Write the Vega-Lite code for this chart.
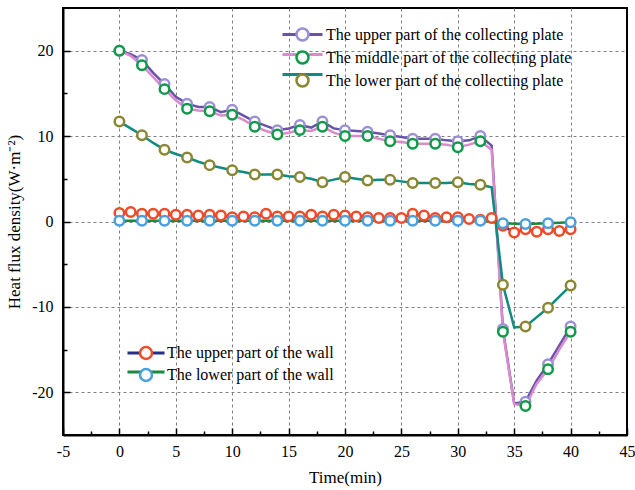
{
  "$schema": "https://vega.github.io/schema/vega-lite/v6.json",
  "width": 564,
  "height": 427,
  "autosize": {"type": "none"},
  "padding": {"left": 63, "top": 8, "right": 8, "bottom": 55},
  "background": "white",
  "config": {"view": {"stroke": "black", "strokeWidth": 2}, "font": "Liberation Serif"},
  "datasets": {
    "plates": [
      {"t":0,"v":20.0,"s":"The upper part of the collecting plate"},{"t":1,"v":19.6,"s":"The upper part of the collecting plate"},{"t":2,"v":18.9,"s":"The upper part of the collecting plate"},{"t":3,"v":17.4,"s":"The upper part of the collecting plate"},{"t":4,"v":16.1,"s":"The upper part of the collecting plate"},{"t":5,"v":14.6,"s":"The upper part of the collecting plate"},{"t":6,"v":13.8,"s":"The upper part of the collecting plate"},{"t":7,"v":13.4,"s":"The upper part of the collecting plate"},{"t":8,"v":13.4,"s":"The upper part of the collecting plate"},{"t":9,"v":12.8,"s":"The upper part of the collecting plate"},{"t":10,"v":13.1,"s":"The upper part of the collecting plate"},{"t":11,"v":12.4,"s":"The upper part of the collecting plate"},{"t":12,"v":11.7,"s":"The upper part of the collecting plate"},{"t":13,"v":11.2,"s":"The upper part of the collecting plate"},{"t":14,"v":10.7,"s":"The upper part of the collecting plate"},{"t":15,"v":10.9,"s":"The upper part of the collecting plate"},{"t":16,"v":11.3,"s":"The upper part of the collecting plate"},{"t":17,"v":11.0,"s":"The upper part of the collecting plate"},{"t":18,"v":11.7,"s":"The upper part of the collecting plate"},{"t":19,"v":10.9,"s":"The upper part of the collecting plate"},{"t":20,"v":10.7,"s":"The upper part of the collecting plate"},{"t":21,"v":10.6,"s":"The upper part of the collecting plate"},{"t":22,"v":10.5,"s":"The upper part of the collecting plate"},{"t":23,"v":10.3,"s":"The upper part of the collecting plate"},{"t":24,"v":10.1,"s":"The upper part of the collecting plate"},{"t":25,"v":9.9,"s":"The upper part of the collecting plate"},{"t":26,"v":9.7,"s":"The upper part of the collecting plate"},{"t":27,"v":9.7,"s":"The upper part of the collecting plate"},{"t":28,"v":9.7,"s":"The upper part of the collecting plate"},{"t":29,"v":9.5,"s":"The upper part of the collecting plate"},{"t":30,"v":9.4,"s":"The upper part of the collecting plate"},{"t":31,"v":9.5,"s":"The upper part of the collecting plate"},{"t":32,"v":10.0,"s":"The upper part of the collecting plate"},{"t":33,"v":8.9,"s":"The upper part of the collecting plate"},{"t":34,"v":-12.6,"s":"The upper part of the collecting plate"},{"t":35,"v":-21.3,"s":"The upper part of the collecting plate"},{"t":36,"v":-21.1,"s":"The upper part of the collecting plate"},{"t":37,"v":-18.6,"s":"The upper part of the collecting plate"},{"t":38,"v":-16.7,"s":"The upper part of the collecting plate"},{"t":39,"v":-14.5,"s":"The upper part of the collecting plate"},{"t":40,"v":-12.3,"s":"The upper part of the collecting plate"},
      {"t":0,"v":20.0,"s":"The middle part of the collecting plate"},{"t":1,"v":19.4,"s":"The middle part of the collecting plate"},{"t":2,"v":18.3,"s":"The middle part of the collecting plate"},{"t":3,"v":16.9,"s":"The middle part of the collecting plate"},{"t":4,"v":15.5,"s":"The middle part of the collecting plate"},{"t":5,"v":14.2,"s":"The middle part of the collecting plate"},{"t":6,"v":13.2,"s":"The middle part of the collecting plate"},{"t":7,"v":13.0,"s":"The middle part of the collecting plate"},{"t":8,"v":12.9,"s":"The middle part of the collecting plate"},{"t":9,"v":12.4,"s":"The middle part of the collecting plate"},{"t":10,"v":12.5,"s":"The middle part of the collecting plate"},{"t":11,"v":11.9,"s":"The middle part of the collecting plate"},{"t":12,"v":11.1,"s":"The middle part of the collecting plate"},{"t":13,"v":10.6,"s":"The middle part of the collecting plate"},{"t":14,"v":10.2,"s":"The middle part of the collecting plate"},{"t":15,"v":10.4,"s":"The middle part of the collecting plate"},{"t":16,"v":10.7,"s":"The middle part of the collecting plate"},{"t":17,"v":10.6,"s":"The middle part of the collecting plate"},{"t":18,"v":11.1,"s":"The middle part of the collecting plate"},{"t":19,"v":10.4,"s":"The middle part of the collecting plate"},{"t":20,"v":10.0,"s":"The middle part of the collecting plate"},{"t":21,"v":10.0,"s":"The middle part of the collecting plate"},{"t":22,"v":10.0,"s":"The middle part of the collecting plate"},{"t":23,"v":9.7,"s":"The middle part of the collecting plate"},{"t":24,"v":9.4,"s":"The middle part of the collecting plate"},{"t":25,"v":9.3,"s":"The middle part of the collecting plate"},{"t":26,"v":9.1,"s":"The middle part of the collecting plate"},{"t":27,"v":9.1,"s":"The middle part of the collecting plate"},{"t":28,"v":9.1,"s":"The middle part of the collecting plate"},{"t":29,"v":9.0,"s":"The middle part of the collecting plate"},{"t":30,"v":8.7,"s":"The middle part of the collecting plate"},{"t":31,"v":9.0,"s":"The middle part of the collecting plate"},{"t":32,"v":9.4,"s":"The middle part of the collecting plate"},{"t":33,"v":8.4,"s":"The middle part of the collecting plate"},{"t":34,"v":-12.9,"s":"The middle part of the collecting plate"},{"t":35,"v":-21.4,"s":"The middle part of the collecting plate"},{"t":36,"v":-21.6,"s":"The middle part of the collecting plate"},{"t":37,"v":-19.0,"s":"The middle part of the collecting plate"},{"t":38,"v":-17.3,"s":"The middle part of the collecting plate"},{"t":39,"v":-15.0,"s":"The middle part of the collecting plate"},{"t":40,"v":-12.9,"s":"The middle part of the collecting plate"},
      {"t":0,"v":11.7,"s":"The lower part of the collecting plate"},{"t":1,"v":10.9,"s":"The lower part of the collecting plate"},{"t":2,"v":10.1,"s":"The lower part of the collecting plate"},{"t":3,"v":9.2,"s":"The lower part of the collecting plate"},{"t":4,"v":8.4,"s":"The lower part of the collecting plate"},{"t":5,"v":7.9,"s":"The lower part of the collecting plate"},{"t":6,"v":7.5,"s":"The lower part of the collecting plate"},{"t":7,"v":7.0,"s":"The lower part of the collecting plate"},{"t":8,"v":6.6,"s":"The lower part of the collecting plate"},{"t":9,"v":6.3,"s":"The lower part of the collecting plate"},{"t":10,"v":6.0,"s":"The lower part of the collecting plate"},{"t":11,"v":5.8,"s":"The lower part of the collecting plate"},{"t":12,"v":5.5,"s":"The lower part of the collecting plate"},{"t":13,"v":5.5,"s":"The lower part of the collecting plate"},{"t":14,"v":5.5,"s":"The lower part of the collecting plate"},{"t":15,"v":5.3,"s":"The lower part of the collecting plate"},{"t":16,"v":5.2,"s":"The lower part of the collecting plate"},{"t":17,"v":5.0,"s":"The lower part of the collecting plate"},{"t":18,"v":4.6,"s":"The lower part of the collecting plate"},{"t":19,"v":4.9,"s":"The lower part of the collecting plate"},{"t":20,"v":5.2,"s":"The lower part of the collecting plate"},{"t":21,"v":5.0,"s":"The lower part of the collecting plate"},{"t":22,"v":4.8,"s":"The lower part of the collecting plate"},{"t":23,"v":4.9,"s":"The lower part of the collecting plate"},{"t":24,"v":4.9,"s":"The lower part of the collecting plate"},{"t":25,"v":4.7,"s":"The lower part of the collecting plate"},{"t":26,"v":4.5,"s":"The lower part of the collecting plate"},{"t":27,"v":4.5,"s":"The lower part of the collecting plate"},{"t":28,"v":4.5,"s":"The lower part of the collecting plate"},{"t":29,"v":4.5,"s":"The lower part of the collecting plate"},{"t":30,"v":4.6,"s":"The lower part of the collecting plate"},{"t":31,"v":4.4,"s":"The lower part of the collecting plate"},{"t":32,"v":4.3,"s":"The lower part of the collecting plate"},{"t":33,"v":4.0,"s":"The lower part of the collecting plate"},{"t":34,"v":-7.4,"s":"The lower part of the collecting plate"},{"t":35,"v":-12.4,"s":"The lower part of the collecting plate"},{"t":36,"v":-12.3,"s":"The lower part of the collecting plate"},{"t":37,"v":-11.2,"s":"The lower part of the collecting plate"},{"t":38,"v":-10.1,"s":"The lower part of the collecting plate"},{"t":39,"v":-8.8,"s":"The lower part of the collecting plate"},{"t":40,"v":-7.5,"s":"The lower part of the collecting plate"}
    ],
    "walls": [
      {"t":0,"v":1.0,"s":"The upper part of the wall"},{"t":1,"v":1.1,"s":"The upper part of the wall"},{"t":2,"v":0.9,"s":"The upper part of the wall"},{"t":3,"v":0.9,"s":"The upper part of the wall"},{"t":4,"v":0.9,"s":"The upper part of the wall"},{"t":5,"v":0.8,"s":"The upper part of the wall"},{"t":6,"v":0.8,"s":"The upper part of the wall"},{"t":7,"v":0.7,"s":"The upper part of the wall"},{"t":8,"v":0.8,"s":"The upper part of the wall"},{"t":9,"v":0.7,"s":"The upper part of the wall"},{"t":10,"v":0.5,"s":"The upper part of the wall"},{"t":11,"v":0.6,"s":"The upper part of the wall"},{"t":12,"v":0.5,"s":"The upper part of the wall"},{"t":13,"v":0.9,"s":"The upper part of the wall"},{"t":14,"v":0.6,"s":"The upper part of the wall"},{"t":15,"v":0.6,"s":"The upper part of the wall"},{"t":16,"v":0.6,"s":"The upper part of the wall"},{"t":17,"v":0.8,"s":"The upper part of the wall"},{"t":18,"v":0.6,"s":"The upper part of the wall"},{"t":19,"v":0.8,"s":"The upper part of the wall"},{"t":20,"v":0.7,"s":"The upper part of the wall"},{"t":21,"v":0.6,"s":"The upper part of the wall"},{"t":22,"v":0.5,"s":"The upper part of the wall"},{"t":23,"v":0.4,"s":"The upper part of the wall"},{"t":24,"v":0.4,"s":"The upper part of the wall"},{"t":25,"v":0.4,"s":"The upper part of the wall"},{"t":26,"v":0.9,"s":"The upper part of the wall"},{"t":27,"v":0.7,"s":"The upper part of the wall"},{"t":28,"v":0.4,"s":"The upper part of the wall"},{"t":29,"v":0.5,"s":"The upper part of the wall"},{"t":30,"v":0.5,"s":"The upper part of the wall"},{"t":31,"v":0.3,"s":"The upper part of the wall"},{"t":32,"v":0.2,"s":"The upper part of the wall"},{"t":33,"v":0.4,"s":"The upper part of the wall"},{"t":34,"v":-0.5,"s":"The upper part of the wall"},{"t":35,"v":-1.3,"s":"The upper part of the wall"},{"t":36,"v":-0.9,"s":"The upper part of the wall"},{"t":37,"v":-1.2,"s":"The upper part of the wall"},{"t":38,"v":-0.9,"s":"The upper part of the wall"},{"t":39,"v":-1.1,"s":"The upper part of the wall"},{"t":40,"v":-0.9,"s":"The upper part of the wall"},
      {"t":0,"v":0.1,"s":"The lower part of the wall"},{"t":2,"v":0.1,"s":"The lower part of the wall"},{"t":4,"v":0.1,"s":"The lower part of the wall"},{"t":6,"v":0.1,"s":"The lower part of the wall"},{"t":8,"v":0.1,"s":"The lower part of the wall"},{"t":10,"v":0.1,"s":"The lower part of the wall"},{"t":12,"v":0.1,"s":"The lower part of the wall"},{"t":14,"v":0.1,"s":"The lower part of the wall"},{"t":16,"v":0.1,"s":"The lower part of the wall"},{"t":18,"v":0.1,"s":"The lower part of the wall"},{"t":20,"v":0.1,"s":"The lower part of the wall"},{"t":22,"v":0.1,"s":"The lower part of the wall"},{"t":24,"v":0.1,"s":"The lower part of the wall"},{"t":26,"v":0.1,"s":"The lower part of the wall"},{"t":28,"v":0.1,"s":"The lower part of the wall"},{"t":30,"v":0.1,"s":"The lower part of the wall"},{"t":32,"v":0.1,"s":"The lower part of the wall"},{"t":34,"v":-0.2,"s":"The lower part of the wall"},{"t":36,"v":-0.3,"s":"The lower part of the wall"},{"t":38,"v":-0.2,"s":"The lower part of the wall"},{"t":40,"v":-0.1,"s":"The lower part of the wall"}
    ]
  },
  "encoding": {
    "x": {
      "field": "t", "type": "quantitative",
      "scale": {"domain": [-5, 45], "nice": false, "zero": false},
      "axis": {
        "title": "Time(min)",
        "values": [-5,-2.5,0,2.5,5,7.5,10,12.5,15,17.5,20,22.5,25,27.5,30,32.5,35,37.5,40,42.5,45],
        "labelExpr": "datum.value % 5 === 0 ? '' + datum.value : ''",
        "tickSize": {"condition": {"test": "datum.value % 5 !== 0", "value": -4}, "value": -7},
        "tickColor": "black", "tickWidth": 1.5,
        "domainColor": "black", "domainWidth": 2,
        "grid": true, "gridDash": [3, 3], "gridColor": "#808080", "gridWidth": 1,
        "gridOpacity": {"condition": {"test": "datum.value % 5 !== 0 || datum.value === -5 || datum.value === 45", "value": 0}, "value": 1},
        "labelFont": "Liberation Serif", "labelFontSize": 16, "labelColor": "black", "labelPadding": 15,
        "labelFlush": false, "labelOverlap": false,
        "titleFont": "Liberation Serif", "titleFontSize": 17, "titleFontWeight": "normal", "titleColor": "black", "titlePadding": 7
      }
    },
    "y": {
      "field": "v", "type": "quantitative",
      "scale": {"domain": [-25, 25], "nice": false, "zero": false},
      "axis": {
        "title": "Heat flux density(W·m⁻²)",
        "values": [-20,-15,-10,-5,0,5,10,15,20],
        "labelExpr": "datum.value % 10 === 0 ? '' + datum.value : ''",
        "tickSize": {"condition": {"test": "datum.value % 10 !== 0", "value": -4}, "value": -7},
        "tickColor": "black", "tickWidth": 1.5,
        "domainColor": "black", "domainWidth": 2,
        "grid": true, "gridDash": [3, 3], "gridColor": "#808080", "gridWidth": 1,
        "gridOpacity": {"condition": {"test": "datum.value % 10 !== 0", "value": 0}, "value": 1},
        "labelFont": "Liberation Serif", "labelFontSize": 16, "labelColor": "black", "labelPadding": 17,
        "labelFlush": false, "labelOverlap": false,
        "titleFont": "Liberation Serif", "titleFontSize": 17, "titleFontWeight": "normal", "titleColor": "black", "titlePadding": 8
      }
    }
  },
  "layer": [
    {
      "data": {"name": "plates"},
      "mark": {"type": "line", "strokeWidth": 2.5},
      "encoding": {
        "stroke": {
          "field": "s", "type": "nominal",
          "scale": {"domain": ["The upper part of the collecting plate", "The middle part of the collecting plate", "The lower part of the collecting plate"], "range": ["#6a52aa", "#d98ccc", "#118a80"]},
          "legend": {"title": null, "orient": "none", "legendX": 218, "legendY": 15, "padding": 0, "symbolType": "M-2,0H2", "symbolSize": 400, "symbolOffset": 10, "symbolStrokeWidth": 3, "labelExpr": "''", "labelFont": "Liberation Serif", "labelFontSize": 16, "labelColor": "black", "labelOffset": 12, "rowPadding": -1.5, "labelLimit": 0}
        }
      }
    },
    {
      "data": {"name": "plates"},
      "transform": [{"filter": "datum.t % 2 === 0"}],
      "mark": {"type": "point", "shape": "circle", "filled": false, "fill": "white", "fillOpacity": 1, "opacity": 1, "strokeWidth": 2.5, "size": 90},
      "encoding": {
        "stroke": {
          "field": "s", "type": "nominal",
          "scale": {"domain": ["The upper part of the collecting plate", "The middle part of the collecting plate", "The lower part of the collecting plate"], "range": ["#9b90d6", "#0f9a48", "#8a8632"]},
          "legend": {"title": null, "orient": "none", "legendX": 218, "legendY": 15, "padding": 0, "symbolType": "M0.6,0A0.6,0.6,0,1,1,-0.6,0A0.6,0.6,0,1,1,0.6,0Z", "symbolSize": 400, "symbolOffset": 10, "symbolStrokeWidth": 2.5, "symbolFillColor": "white", "labelFont": "Liberation Serif", "labelFontSize": 16, "labelColor": "black", "labelOffset": 12, "rowPadding": -1.5, "labelLimit": 0}
        }
      }
    },
    {
      "data": {"name": "walls"},
      "mark": {"type": "line", "strokeWidth": 2.5},
      "encoding": {
        "stroke": {
          "field": "s", "type": "nominal",
          "scale": {"domain": ["The upper part of the wall", "The lower part of the wall"], "range": ["#25308c", "#1a8a3c"]},
          "legend": {"title": null, "orient": "none", "legendX": 63, "legendY": 334, "padding": 0, "symbolType": "M-1.95,0H1.95", "symbolSize": 361, "symbolOffset": 9, "symbolStrokeWidth": 3, "labelExpr": "''", "labelFont": "Liberation Serif", "labelFontSize": 16, "labelColor": "black", "labelOffset": 10, "rowPadding": -2, "labelLimit": 0}
        }
      }
    },
    {
      "data": {"name": "walls"},
      "mark": {"type": "point", "shape": "circle", "filled": false, "fill": "white", "fillOpacity": 1, "opacity": 1, "strokeWidth": 2.5, "size": 90},
      "encoding": {
        "stroke": {
          "field": "s", "type": "nominal",
          "scale": {"domain": ["The upper part of the wall", "The lower part of the wall"], "range": ["#f04a28", "#4a9fde"]},
          "legend": {"title": null, "orient": "none", "legendX": 63, "legendY": 334, "padding": 0, "symbolType": "M0.63,0A0.63,0.63,0,1,1,-0.63,0A0.63,0.63,0,1,1,0.63,0Z", "symbolSize": 361, "symbolOffset": 9, "symbolStrokeWidth": 2.5, "symbolFillColor": "white", "labelFont": "Liberation Serif", "labelFontSize": 16, "labelColor": "black", "labelOffset": 10, "rowPadding": -2, "labelLimit": 0}
        }
      }
    }
  ],
  "resolve": {"scale": {"stroke": "independent"}}
}
